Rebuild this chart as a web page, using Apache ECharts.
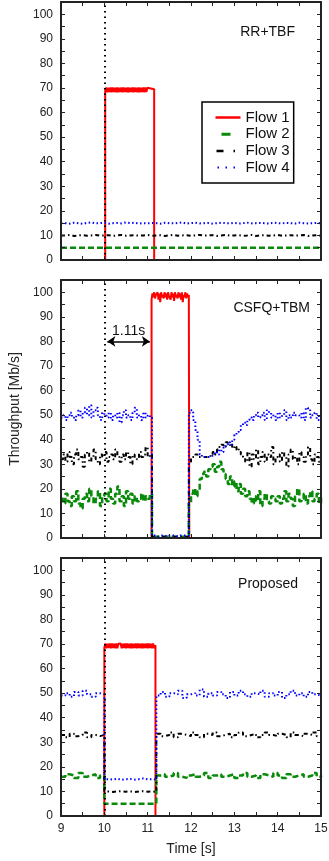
<!DOCTYPE html>
<html>
<head>
<meta charset="utf-8">
<script src="https://cdn.jsdelivr.net/npm/echarts@6/dist/echarts.min.js"></script>
<style>html,body{margin:0;padding:0;background:#fff}#main{width:329px;height:861px}</style>
</head>
<body>
<div id="main"></div>
<script>
var flowNames = ['Flow 1', 'Flow 2', 'Flow 3', 'Flow 4'];
var panelNames = ['RR+TBF', 'CSFQ+TBM', 'Proposed'];
var eventTime = 10;       // dotted marker
var delayArrow = [10.07, 11.05, 80];  // t start, t end, level
var delayText = '1.11s';

// ---- panel 1: RR+TBF
// flow 1 plateau sampled every 0.025 s from 10.02, other flows every 0.1 s from 9.0
var rrFlow1Band = [69,70.2,68.3,70.1,68.4,70.2,68.3,70.2,68.4,70.1, 68.3,70.2,68.3,70.1,68.4,70.2,68.3,70.2,68.4,70.1,
  68.3,70.2,68.3,70.1,68.4,70.2,68.3,70.2,68.4,70.1, 68.3,70.2,68.3,70.1,68.4,70.2,68.3,70.2,68.4,70.1];
var rrFlow2 = [5,5,5,5,5,5,5,5,5,5, 5,5,5,5,5,5,5,5,5,5, 5,5,5,5,5,5,5,5,5,5,
  5,5,5,5,5,5,5,5,5,5, 5,5,5,5,5,5,5,5,5,5, 5,5,5,5,5,5,5,5,5,5, 5];
var rrFlow3 = [10,10.2,9.8,10,10.1,9.9,10,10.2,9.9,10, 10.1,9.8,10,10.2,9.9,10,10.1,9.9,10,10.2,
  9.9,10,10.1,9.8,10,10.2,9.9,10,10.1,9.9, 10,10.2,9.9,10,10.1,9.8,10,10.2,9.9,10,
  10.1,9.9,10,10.2,9.8,10,10.1,9.9,10,10.2, 9.9,10,10.1,9.9,10,10.2,9.8,10,10.1,9.9, 10];
var rrFlow4 = [15,14.8,15.2,15,14.7,15.1,15.3,14.9,15,15.2, 14.8,15,15.1,14.9,15.3,15,15.2,14.8,15,14.9,
  15.1,15,14.8,15.2,15,14.9,15.1,15.3,14.8,15, 15.2,14.9,15,15.1,14.8,15,15.2,15,14.9,15.1,
  14.8,15,15.2,14.9,15,15.1,15,14.8,15.2,15, 14.9,15.1,15,14.8,15.2,15,14.9,15,15.1,14.9, 15.2];

// ---- panel 2: CSFQ+TBM
// flow 1 plateau sampled every 0.02 s from 11.09, other flows every 0.05 s from 9.0
var csFlow1Band = [97,99.5,98,100,97.5,99,98.5,100,97,99.5,96,100,98,99,97.5,100,98,99.5,97,100,98.5,99,
  97,100,98,99.5,96.5,100,98,99,97.5,100,98,99.5,97,100,96,99,98,100,97.5,99.5,98,99];
var csFlow2 = [16,14,18,15,13,17,15,19,14,12,16,18,15,20,17,14,16,19,13,17,
  18,15,20,16,14,18,21,15,17,13,19,16,18,14,17,15,16,18,15,17,16,18,
  0.5,0.5,0.5,0.5,0.5,0.5,0.5,0.5,0.5,0.5,0.5,0.5,0.5,0.5,0.5,0.5,0.5,
  14,18,20,17,19,24,26,27,25,28,29,30,27,29,31,28,26,24,22,25,21,
  23,19,22,18,20,17,19,16,14,17,15,19,13,16,18,15,14,17,16,15,
  17,14,16,19,15,18,16,13,17,20,15,16,18,14,17,19,15,16,18,14,17];
var csFlow3 = [32,34,31,35,33,30,34,36,32,33,29,34,35,31,33,36,32,30,34,33,
  35,31,33,34,32,36,33,31,34,32,35,33,30,34,33,32,35,33,34,37,33,34,
  0.5,0.5,0.5,0.5,0.5,0.5,0.5,0.5,0.5,0.5,0.5,0.5,0.5,0.5,0.5,0.5,0.5,
  31,33,33,34,33,33,33,33,33,33,34,35,34,36,37,38,37,39,38,37,38,
  36,37,35,34,33,31,35,29,34,32,36,30,33,35,31,34,33,37,30,33,
  34,31,35,33,29,34,36,32,33,30,35,33,31,34,37,32,30,34,33,31,34];
var csFlow4 = [49,50,48,50,51,49,48,50,52,49,51,53,50,54,49,52,53,50,48,51,
  50,49,51,48,50,49,51,47,50,52,49,50,48,51,53,49,50,48,51,49,50,49,
  1,1,0.5,1,1,1,0.5,1,1,1,1,0.5,1,1,1,1,1,
  51,52,48,44,40,34,33,33,33,33,33.5,34,35,34,36,35,37,38,39,38,40,
  42,43,44,46,47,46,48,49,48,50,51,49,50,51,48,52,51,49,50,48,
  51,49,50,52,48,50,49,51,50,50,49,51,48,53,52,49,50,51,48,50,49];

// ---- panel 3: Proposed
// flow 1 plateau sampled every 0.025 s (two runs around a notch), other flows every 0.1 s from 9.0
var prFlow1BandA = [68.5,70.2,68.3,70.1,68.4,70.2,68.3,70.2,68.4,70.1,68.3,70.2,68.3,70.1];
var prFlow1BandB = [70.2,68.3,70.1,68.4,70.2,68.3,70.2,68.4,70.1,68.3,70.2,68.3,70.1,68.4,70.2,68.3,
  70.2,68.4,70.1,68.3,70.2,68.3,70.1,68.4,70.2,68.3,70.2,68.4,70.1,68.3,70.2,68.3];
var prFlow2 = [16,17,16.5,15.5,17.5,16,16.5,17,15.5,16.5,
  5,5,5,5,5,5,5,5,5,5,5,5,
  16.5,17,16,16.5,17.5,16,15.5,16.5,17,16,16.5,17.5,15.5,16.5,17,16,16.5,17,15.5,16.5,
  17.5,16,16.5,15.5,17,16.5,16,17.5,16.5,15.5,17,16,16.5,17,16,16.5,17.5,16,16.5];
var prFlow3 = [33,32,33.5,32.5,33,34,32,33,32.5,33,
  10,9.8,10,10.1,9.9,10,9.8,10,10.1,9.9,10,9.8,
  33.5,32.5,33,34,32,33.5,33,32.5,34,33,32,33.5,33,34,32.5,33,33.5,32,33,34,
  32.5,33,33.5,32,33,34,33,32.5,33.5,33,32,34,33,32.5,33.5,33,34,32.5,33.5];
var prFlow4 = [49,50,48.5,50.5,49,51,49.5,48.5,50,49.5,
  15,14.8,15.2,14.7,15,15.1,14.8,15,15.3,14.9,15,14.8,
  49,50.5,48.5,50,49.5,51,48,49.5,50,49,51.5,48.5,50,49,50.5,49.5,48,50.5,49,51,
  49.5,48.5,50,49.5,51,48.5,50,49,50.5,48,49.5,51,49,50,48.5,50.5,49.5,49,50];

function sampled(t0, dt, vals) {
    return vals.map(function (v, i) { return [+(t0 + i * dt).toFixed(3), v]; });
}

var rrFlow1 = [[9, 0], [10.02, 0]].concat(sampled(10.02, 0.025, rrFlow1Band),
    [[11.03, 69.5], [11.15, 69.5], [11.15, 0], [15, 0]]);
var csFlow1 = [[9, 0], [11.09, 0]].concat(sampled(11.09, 0.02, csFlow1Band),
    [[11.96, 99], [11.96, 0], [15, 0]]);
var prFlow1 = [[9, 0], [10, 0]].concat(sampled(10, 0.025, prFlow1BandA), [[10.35, 69.5]],
    sampled(10.375, 0.025, prFlow1BandB), [[11.18, 69.5], [11.18, 0], [15, 0]]);

var panels = [
    [rrFlow1, sampled(9, 0.1, rrFlow2), sampled(9, 0.1, rrFlow3), sampled(9, 0.1, rrFlow4)],
    [csFlow1, sampled(9, 0.05, csFlow2), sampled(9, 0.05, csFlow3), sampled(9, 0.05, csFlow4)],
    [prFlow1, sampled(9, 0.1, prFlow2), sampled(9, 0.1, prFlow3), sampled(9, 0.1, prFlow4)]
];

var lineStyles = [
    {color: '#ff0000', width: 2, type: 'solid'},
    {color: '#0a8a0a', width: 2.5, type: [6, 3]},
    {color: '#000000', width: 2, type: [4, 3, 1.5, 3]},
    {color: '#0000ff', width: 2, type: [1.5, 2.5]}
];
// short key samples, like the original key
var keyStyles = [
    {color: '#ff0000', width: 2.5, type: 'solid'},
    {color: '#0a8a0a', width: 3, type: [0, 6, 9, 40]},
    {color: '#000000', width: 2.5, type: [0, 1, 7, 10, 1.5, 40]},
    {color: '#0000ff', width: 2, type: [0, 2, 1.5, 6.5, 1.5, 6.5, 1.5, 40]}
];

var FONT = 'Liberation Sans';
var gridTops = [2, 280, 558];
var ink = '#222';

var grid = [], xAxis = [], yAxis = [], series = [];
gridTops.forEach(function (top) {
    grid.push({left: 61, top: top, width: 260, height: 258, containLabel: false, outerBoundsMode: 'none'});
});

function axisBase(extra) {
    var a = {
        type: 'value',
        z: 5,
        axisLine: {show: true, onZero: false, lineStyle: {color: ink, width: 2}},
        axisTick: {show: true, inside: true, length: 4, lineStyle: {color: ink, width: 1}},
        splitLine: {show: false},
        axisLabel: {show: false}
    };
    for (var k in extra) a[k] = extra[k];
    return a;
}

for (var i = 0; i < 3; i++) {
    xAxis.push(axisBase({
        gridIndex: i, position: 'bottom', min: 9, max: 15, interval: 0.5,
        axisLabel: {show: i === 2, margin: 7, fontSize: 12, color: ink, fontFamily: FONT,
            formatter: function (v) { return v % 1 === 0 ? String(v) : ''; }},
        name: i === 2 ? 'Time [s]' : '', nameLocation: 'middle', nameGap: 26,
        nameTextStyle: {fontSize: 14, color: ink, fontFamily: FONT}
    }));
}
for (var i = 0; i < 3; i++) {
    xAxis.push(axisBase({gridIndex: i, position: 'top', min: 9, max: 15, interval: 0.5}));
}
for (var i = 0; i < 3; i++) {
    yAxis.push(axisBase({
        gridIndex: i, position: 'left', min: 0, max: 105, interval: 5,
        axisLabel: {show: true, margin: 8, fontSize: 12, color: ink, fontFamily: FONT,
            formatter: function (v) { return v % 10 === 0 ? String(v) : ''; }},
        name: i === 1 ? 'Throughput [Mb/s]' : '', nameLocation: 'middle', nameGap: 39,
        nameTextStyle: {fontSize: 14, color: ink, fontFamily: FONT}
    }));
}
for (var i = 0; i < 3; i++) {
    yAxis.push(axisBase({gridIndex: i, position: 'right', min: 0, max: 105, interval: 5}));
}

var arrowEnd = {
    symbol: 'arrow',
    lineStyle: {type: 'solid', width: 1.5, color: '#000'},
    label: {show: true, formatter: delayText, position: 'middle', distance: 3,
            fontSize: 14, color: '#111', fontFamily: FONT}
};

panels.forEach(function (flows, p) {
    flows.forEach(function (data, f) {
        var s = {
            name: flowNames[f],
            type: 'line',
            xAxisIndex: p,
            yAxisIndex: p,
            data: data,
            symbol: 'none',
            showSymbol: false,
            step: f === 0 ? false : 'end',
            lineStyle: lineStyles[f],
            itemStyle: {color: lineStyles[f].color},
            animation: false,
            silent: true
        };
        if (f === 0) {
            var mlData = [{xAxis: eventTime}];
            if (p === 1) {
                mlData.push([
                    echarts.util.extend({coord: [delayArrow[0], delayArrow[2]]}, arrowEnd),
                    echarts.util.extend({coord: [delayArrow[1], delayArrow[2]]}, arrowEnd)
                ]);
            }
            s.markLine = {
                silent: true,
                animation: false,
                symbol: 'none',
                symbolSize: 8,
                label: {show: false},
                lineStyle: {type: [1.5, 4], width: 2, color: '#000'},
                data: mlData
            };
        }
        series.push(s);
    });
});

var titleRight = [34, 19, 31];
var titleTop = [25, 301, 577];
var title = panelNames.map(function (t, i) {
    return {text: t, right: titleRight[i], top: titleTop[i], padding: 0,
        textStyle: {fontSize: 14, fontWeight: 'normal', color: '#111', fontFamily: FONT}};
});

var option = {
    animation: false,
    backgroundColor: '#fff',
    textStyle: {fontFamily: FONT},
    title: title,
    legend: {
        data: flowNames.map(function (n, i) { return {name: n, lineStyle: keyStyles[i]}; }),
        orient: 'vertical',
        left: 202,
        top: 102,
        padding: [8, 4, 8, 12],
        itemGap: 1.7,
        itemWidth: 25,
        itemHeight: 15,
        itemStyle: {opacity: 0},
        backgroundColor: '#fff',
        borderColor: '#000',
        borderWidth: 1.5,
        borderRadius: 0,
        selectedMode: false,
        textStyle: {fontSize: 15, color: '#111', fontFamily: FONT}
    },
    grid: grid,
    xAxis: xAxis,
    yAxis: yAxis,
    series: series
};

var myChart = echarts.init(document.getElementById('main'));
myChart.setOption(option);
</script>
</body>
</html>
